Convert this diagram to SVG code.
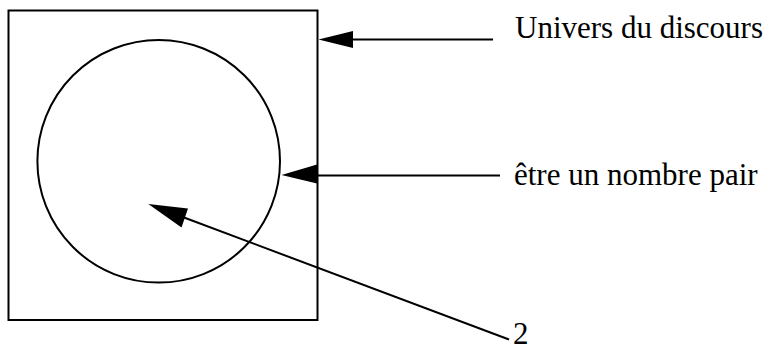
<svg xmlns="http://www.w3.org/2000/svg" width="769" height="350" viewBox="0 0 769 350">
<style>
.s{fill:none;stroke:#000;stroke-width:2}
.t{font-family:"Liberation Serif","Times New Roman",serif;font-size:31px;fill:#000}
.h{fill:#000;stroke:none}
</style>
<rect width="769" height="350" fill="#fff"/>
<g id="univers">
<rect class="s" x="8.5" y="10.5" width="309" height="309.5"/>
<text class="t" x="515" y="38">Univers du discours</text>
</g>
<g id="pair">
<circle class="s" cx="158.7" cy="161.3" r="121.3"/>
<text class="t" x="514" y="185">être un nombre pair</text>
</g>
<g id="deux">
<text class="t" x="513" y="344">2</text>
</g>
<g id="connectors">
<line class="s" x1="352" y1="39.5" x2="493" y2="39.5"/>
<polygon class="h" points="318.5,39.5 353,31 353,48"/>
<line class="s" x1="316" y1="175.5" x2="500" y2="175.5"/>
<polygon class="h" points="281.5,175 317,164.5 317,183.5"/>
<line class="s" x1="184" y1="217.5" x2="509" y2="339.5"/>
<polygon class="h" points="148.3,204 188,208.5 181.5,227.5"/>
</g>
</svg>
